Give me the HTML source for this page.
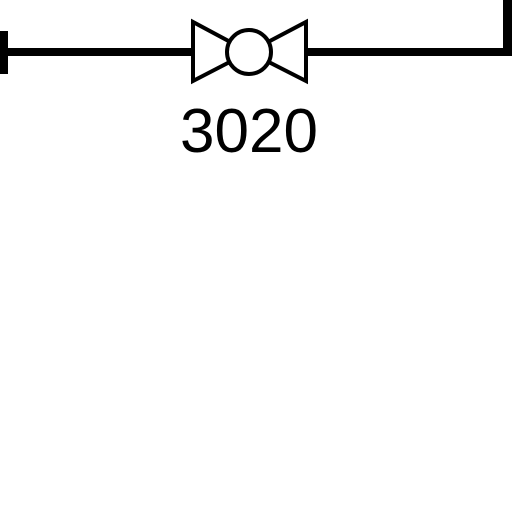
<!DOCTYPE html>
<html><head><meta charset="utf-8"><style>
html,body{margin:0;padding:0;background:#fff;width:512px;height:512px;overflow:hidden}
svg{display:block}
</style></head><body>
<svg width="512" height="512" viewBox="0 0 512 512">
  <rect x="0" y="0" width="512" height="512" fill="#fff"/>
  <rect x="0" y="31" width="8" height="43" fill="#000"/>
  <rect x="0" y="48" width="193" height="8" fill="#000"/>
  <rect x="306" y="48" width="206" height="8" fill="#000"/>
  <rect x="503" y="0" width="9" height="56" fill="#000"/>
  <g fill="none" stroke="#000" stroke-width="4" stroke-linejoin="miter">
    <polygon points="193,22 193,81 249,52"/>
    <polygon points="306,22 306,81 249,52"/>
    <circle cx="249" cy="52" r="22" fill="#fff"/>
  </g>
  <text x="249" y="152" text-anchor="middle" font-family="Liberation Sans, sans-serif" font-size="62" fill="#000">3020</text>
</svg>
</body></html>
